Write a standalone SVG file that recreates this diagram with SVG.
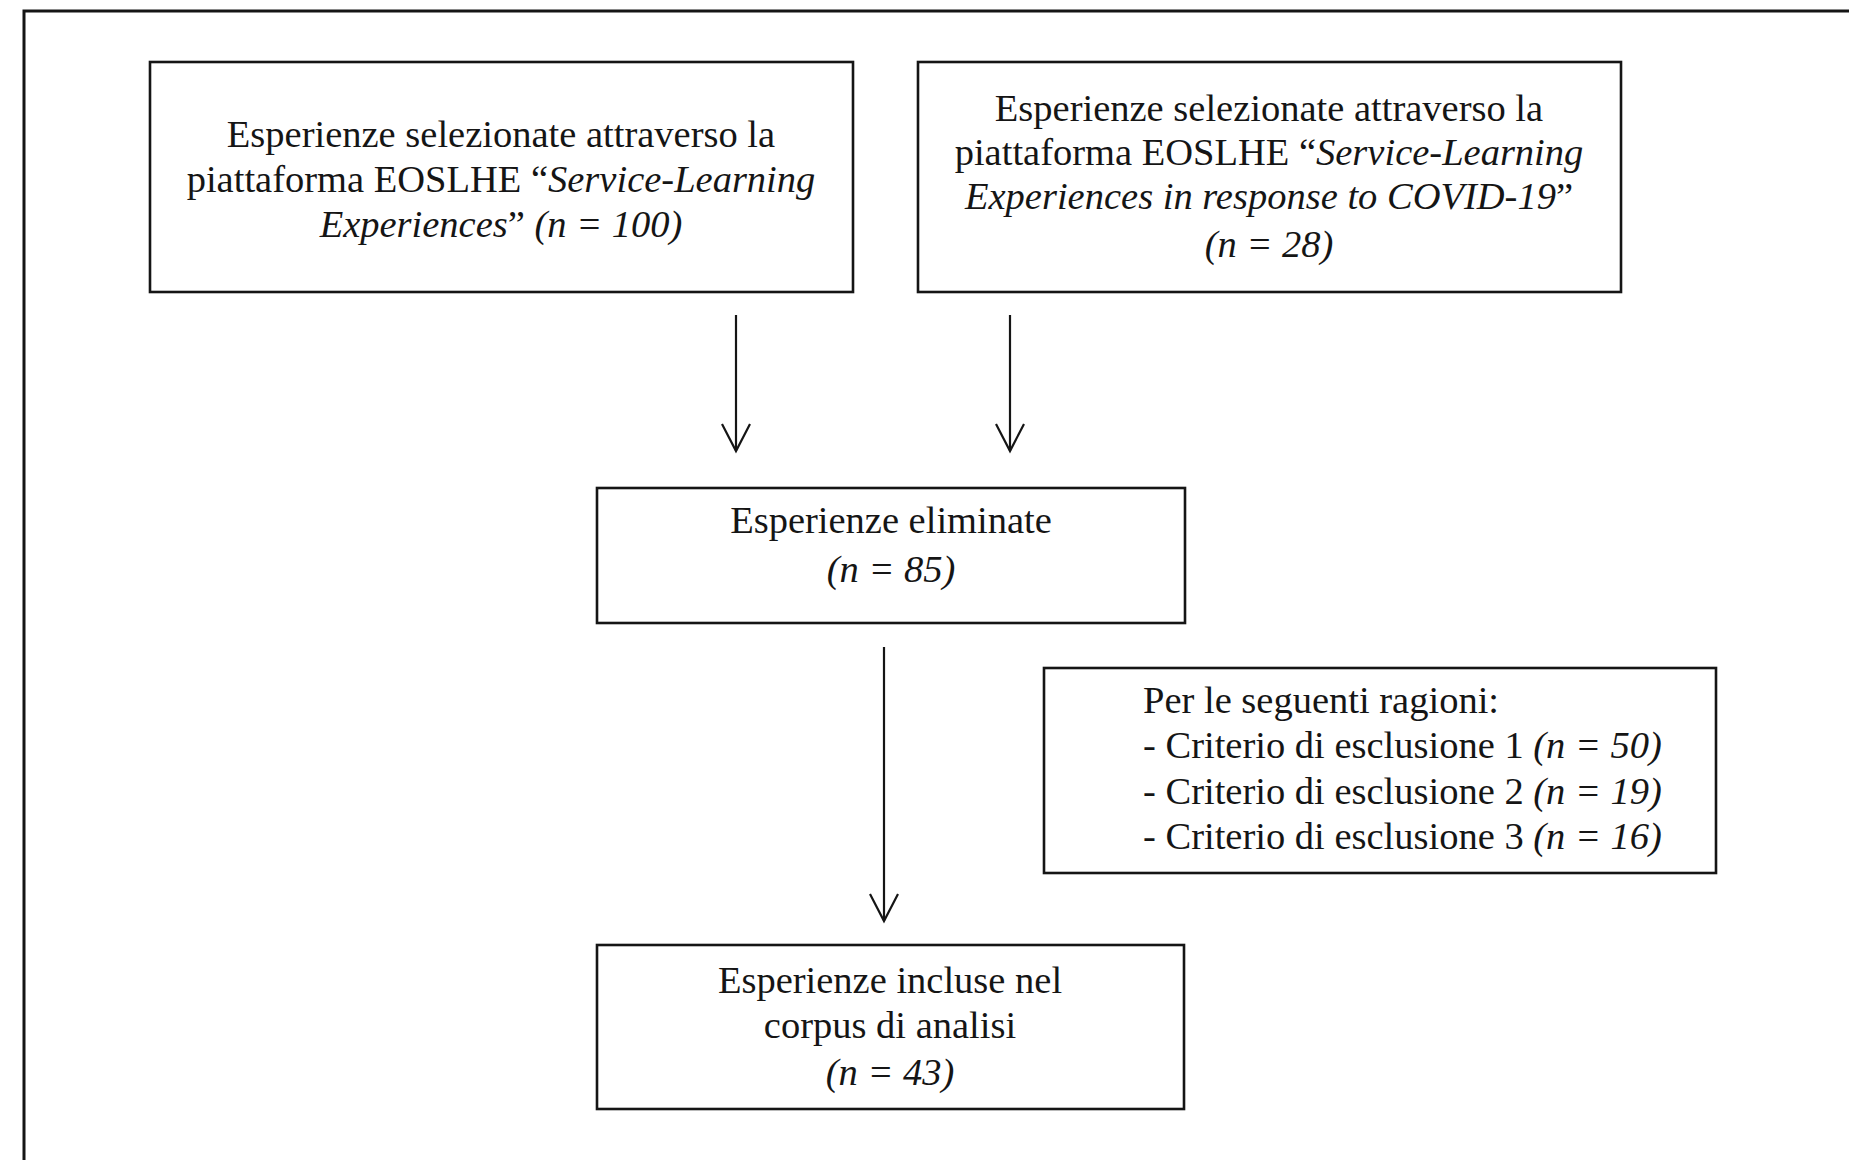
<svg xmlns="http://www.w3.org/2000/svg" width="1849" height="1160" viewBox="0 0 1849 1160">
<style>
.box{fill:#fff;stroke:#151515;stroke-width:2.6}
.t{font-family:"Liberation Serif","Times New Roman",serif;font-size:38.5px;fill:#151515}
.c{text-anchor:middle}
.i{font-style:italic}
.conn{stroke:#151515;stroke-width:2.2;fill:none}
</style>
<defs>
<marker id="arr" markerUnits="userSpaceOnUse" orient="auto" overflow="visible" refX="0" refY="0" markerWidth="30" markerHeight="30">
<path d="M-27,-14 L0,0 L-27,14" fill="none" stroke="#151515" stroke-width="2.2"/>
</marker>
</defs>
<rect x="0" y="0" width="1849" height="1160" fill="#fff"/>
<path d="M24,1160 V11 H1849" fill="none" stroke="#151515" stroke-width="3"/>

<g id="connectors">
<line class="conn" x1="736" y1="315" x2="736" y2="451" marker-end="url(#arr)"/>
<line class="conn" x1="1010" y1="315" x2="1010" y2="451" marker-end="url(#arr)"/>
<line class="conn" x1="884" y1="647" x2="884" y2="921" marker-end="url(#arr)"/>
</g>

<g id="node-eoslhe">
<rect class="box" x="150" y="62" width="703" height="230"/>
<text class="t c" x="501" y="147">Esperienze selezionate attraverso la</text>
<text class="t c" x="501" y="192">piattaforma EOSLHE “<tspan class="i">Service-Learning</tspan></text>
<text class="t c" x="501" y="237"><tspan class="i">Experiences</tspan>”  <tspan class="i">(n = 100)</tspan></text>
</g>

<g id="node-covid">
<rect class="box" x="918" y="62" width="703" height="230"/>
<text class="t c" x="1269" y="121">Esperienze selezionate attraverso la</text>
<text class="t c" x="1269" y="165">piattaforma EOSLHE “<tspan class="i">Service-Learning</tspan></text>
<text class="t c" x="1269" y="209"><tspan class="i">Experiences in response to COVID-19</tspan>”</text>
<text class="t c i" x="1269" y="257">(n = 28)</text>
</g>

<g id="node-eliminate">
<rect class="box" x="597" y="488" width="588" height="135"/>
<text class="t c" x="891" y="533">Esperienze eliminate</text>
<text class="t c i" x="891" y="582">(n = 85)</text>
</g>

<g id="node-ragioni">
<rect class="box" x="1044" y="668" width="672" height="205"/>
<text class="t" x="1143" y="713">Per le seguenti ragioni:</text>
<text class="t" x="1143" y="758">- Criterio di esclusione 1 <tspan class="i">(n = 50)</tspan></text>
<text class="t" x="1143" y="804">- Criterio di esclusione 2 <tspan class="i">(n = 19)</tspan></text>
<text class="t" x="1143" y="849">- Criterio di esclusione 3 <tspan class="i">(n = 16)</tspan></text>
</g>

<g id="node-incluse">
<rect class="box" x="597" y="945" width="587" height="164"/>
<text class="t c" x="890" y="993">Esperienze incluse nel</text>
<text class="t c" x="890" y="1038">corpus di analisi</text>
<text class="t c i" x="890" y="1085">(n = 43)</text>
</g>
</svg>
